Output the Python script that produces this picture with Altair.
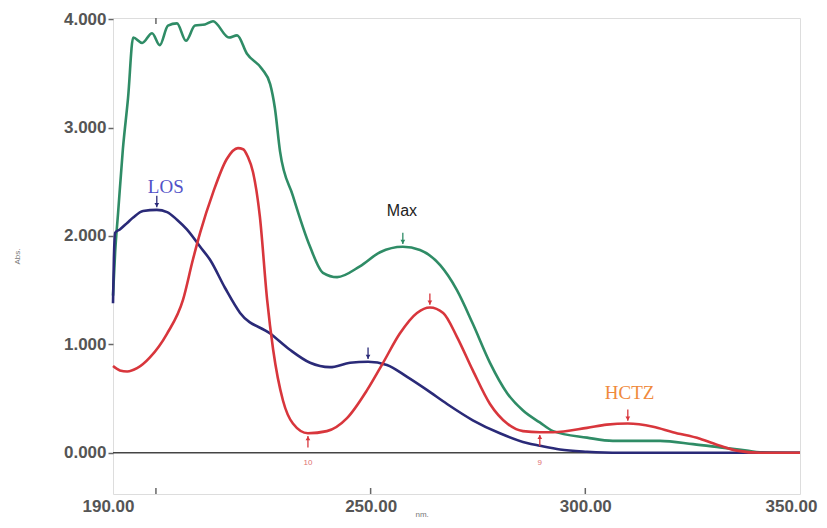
import altair as alt
import pandas as pd

# ---- data ----
max_nm = [190.0, 190.5, 191.2, 192.3, 193.5, 194.7, 196.8, 199.1, 200.9, 202.8, 204.9, 207.0, 209.1,
          211.4, 213.3, 217.0, 218.9, 221.2, 224.7, 226.6, 227.7, 228.9, 231.9, 235.9, 238.9, 242.2,
          247.5, 252.2, 257.5, 261.5, 266.2, 270.1, 273.8, 277.8, 281.8, 285.5, 289.4, 292.5, 300.4,
          306.4, 317.4, 325.1, 331.4, 337.6, 340.7, 350.0]
max_abs = [1.45, 1.85, 2.22, 2.80, 3.27, 3.83, 3.78, 3.87, 3.76, 3.94, 3.96, 3.80, 3.94,
           3.95, 3.98, 3.83, 3.85, 3.68, 3.54, 3.40, 3.18, 2.78, 2.37, 1.90, 1.66, 1.62,
           1.72, 1.85, 1.90, 1.87, 1.73, 1.50, 1.19, 0.83, 0.55, 0.39, 0.28, 0.20, 0.14,
           0.11, 0.11, 0.08, 0.05, 0.02, 0.005, 0.0]

los_nm = [190.0, 190.2, 190.5, 191.6, 193.3, 194.7, 197.0, 200.2, 202.6, 204.9, 207.2, 210.3, 212.6,
          216.1, 219.6, 226.6, 231.2, 235.9, 240.5, 245.2, 249.4, 253.8, 258.5, 263.1, 267.8, 273.8,
          280.1, 286.4, 289.4, 294.1, 300.4, 308.0, 350.0]
los_abs = [1.38, 1.78, 2.03, 2.06, 2.12, 2.17, 2.23, 2.24, 2.22, 2.15, 2.06, 1.90, 1.78,
           1.52, 1.29, 1.10, 0.95, 0.83, 0.79, 0.83, 0.84, 0.81, 0.70, 0.58, 0.45, 0.30,
           0.18, 0.09, 0.065, 0.03, 0.01, 0.0, 0.0]

hctz_nm = [190.0, 191.6, 193.3, 195.6, 198.6, 202.6, 206.3, 208.6, 210.3, 213.3, 216.5, 219.1, 220.3,
           221.4, 222.6, 224.2, 225.9, 227.3, 229.6, 231.9, 235.4, 239.8, 244.5, 249.2, 252.9, 256.8,
           260.8, 263.8, 266.9, 270.1, 273.8, 277.8, 281.8, 285.5, 289.4, 292.5, 300.4, 305.0, 309.9,
           315.8, 320.4, 326.7, 331.4, 335.3, 340.7, 350.0]
hctz_abs = [0.80, 0.76, 0.75, 0.78, 0.88, 1.10, 1.41, 1.78, 2.03, 2.40, 2.71, 2.81, 2.80,
            2.73, 2.59, 2.18, 1.41, 0.95, 0.48, 0.27, 0.18, 0.20, 0.32, 0.58, 0.83, 1.10,
            1.29, 1.34, 1.29, 1.07, 0.76, 0.45, 0.27, 0.20, 0.19, 0.19, 0.23, 0.26, 0.27,
            0.24, 0.19, 0.13, 0.065, 0.02, 0.0, 0.0]

# peak / valley markers (direction: 1 = arrow from above, -1 = arrow from below)
mark_nm = [200.2, 249.4, 257.5, 263.8, 235.4, 289.4, 309.9]
mark_abs = [2.24, 0.84, 1.90, 1.34, 0.18, 0.19, 0.27]
mark_dir = [1, 1, 1, 1, -1, -1, 1]
mark_series = ["LOS", "LOS", "Max", "HCTZ", "HCTZ", "HCTZ", "HCTZ"]
mark_text = ["", "", "", "", "10", "9", ""]

# curve labels
label_text = ["LOS", "Max", "HCTZ"]
label_nm = [202.3, 257.3, 310.3]
label_abs = [2.45, 2.23, 0.55]
label_color = ["#5252c8", "#222222", "#f08a3c"]
label_font = ["Liberation Serif", "Liberation Sans", "Liberation Serif"]
label_size = [19, 16, 19]

x_title = "nm."
y_title = "Abs."
x_label_values = [190, 250, 300, 350]
x_tick_values = [200, 250, 300]
x_top_tick_values = [200]
y_tick_values = [0, 1, 2, 3, 4]

series_names = ["Max", "LOS", "HCTZ"]
series_colors = ["#2f8c66", "#2a2a78", "#d8363c"]

# ---- build tables ----
rows = []
for n, a in zip(max_nm, max_abs):
    rows.append({"series": "Max", "nm": n, "abs": a})
for n, a in zip(los_nm, los_abs):
    rows.append({"series": "LOS", "nm": n, "abs": a})
for n, a in zip(hctz_nm, hctz_abs):
    rows.append({"series": "HCTZ", "nm": n, "abs": a})
curves = pd.DataFrame(rows)

marks = pd.DataFrame({"nm": mark_nm, "abs": mark_abs, "dir": mark_dir,
                      "series": mark_series, "txt": mark_text})

W, H = 687, 476
xs = alt.Scale(domain=[190, 350], nice=False, zero=False)
ys = alt.Scale(domain=[-0.38, 4.01], nice=False, zero=False)
cs = alt.Scale(domain=series_names, range=series_colors)

base_x = alt.X("nm:Q", scale=xs,
               axis=alt.Axis(values=x_label_values, format=".2f", title=None,
                             ticks=False, grid=False, domain=False,
                             labelFontSize=17, labelColor="#555555", labelFont="Liberation Sans",
                             labelFontWeight="bold", labelPadding=4, labelFlush=False,
                             labelOffset={"expr": "datum.value >= 350 ? -9 : (datum.value <= 190 ? -5 : 0)"}))
base_y = alt.Y("abs:Q", scale=ys,
               axis=alt.Axis(values=y_tick_values, format=".3f", title=y_title,
                             grid=False, domain=False, tickSize=5, tickColor="#666666",
                             tickWidth=1.5,
                             labelFontSize=17, labelColor="#555555", labelFont="Liberation Sans",
                             labelFontWeight="bold", labelPadding=2,
                             titleFontSize=8, titleColor="#777777", titleFontWeight="normal",
                             titlePadding=42))

zero_line = alt.Chart(pd.DataFrame({"abs": [0.0]})).mark_rule(color="#444444", strokeWidth=1.5).encode(
    y=alt.Y("abs:Q", scale=ys))

lines = alt.Chart(curves).mark_line(strokeWidth=2.6, interpolate="monotone").encode(
    x=base_x, y=base_y,
    color=alt.Color("series:N", scale=cs, legend=None),
    detail="series:N")

arrow_rules = alt.Chart(marks).transform_calculate(
    y1="datum.abs + datum.dir*0.025",
    y2="datum.abs + datum.dir*0.13").mark_rule(strokeWidth=1.3).encode(
    x=alt.X("nm:Q", scale=xs), y=alt.Y("y1:Q", scale=ys), y2="y2:Q",
    color=alt.Color("series:N", scale=cs, legend=None))

arrow_heads = alt.Chart(marks).transform_calculate(
    yh="datum.abs + datum.dir*0.045",
    shp="datum.dir > 0 ? 'triangle-down' : 'triangle-up'").mark_point(
    filled=True, size=22, opacity=1).encode(
    x=alt.X("nm:Q", scale=xs), y=alt.Y("yh:Q", scale=ys),
    shape=alt.Shape("shp:N", scale=alt.Scale(domain=["triangle-down", "triangle-up"],
                                             range=["triangle-down", "triangle-up"]), legend=None),
    color=alt.Color("series:N", scale=cs, legend=None))

mark_labels = alt.Chart(marks).transform_filter("datum.txt != ''").transform_calculate(
    yt="-0.06").mark_text(fontSize=8, color="#e07070", baseline="top").encode(
    x=alt.X("nm:Q", scale=xs), y=alt.Y("yt:Q", scale=ys), text="txt:N")

label_layers = []
for t, n, a, c, f, s in zip(label_text, label_nm, label_abs, label_color, label_font, label_size):
    label_layers.append(
        alt.Chart(pd.DataFrame({"txt": [t], "nm": [n], "abs": [a]})).mark_text(
            color=c, font=f, fontSize=s, baseline="middle", align="center").encode(
            x=alt.X("nm:Q", scale=xs), y=alt.Y("abs:Q", scale=ys), text="txt:N"))

x_title_layer = alt.Chart(pd.DataFrame({"txt": [x_title], "nm": [262.0]})).mark_text(
    fontSize=8, color="#777777", baseline="bottom", align="center").encode(
    x=alt.X("nm:Q", scale=xs), y=alt.value(H + 25), text="txt:N")

bottom_ticks = alt.Chart(pd.DataFrame({"nm": x_tick_values})).mark_rule(
    color="#666666", strokeWidth=1.5).encode(
    x=alt.X("nm:Q", scale=xs), y=alt.value(H), y2=alt.value(H - 6))
top_ticks = alt.Chart(pd.DataFrame({"nm": x_top_tick_values})).mark_rule(
    color="#666666", strokeWidth=1.5).encode(
    x=alt.X("nm:Q", scale=xs), y=alt.value(0), y2=alt.value(6))

chart = alt.layer(
    zero_line, bottom_ticks, top_ticks, lines, arrow_rules, arrow_heads, mark_labels,
    x_title_layer, *label_layers
).properties(
    width=W, height=H,
    autosize=alt.AutoSizeParams(type="none"),
    padding={"left": 105, "top": 10, "right": 19, "bottom": 26},
).configure_view(
    stroke="#666666", strokeWidth=2
).configure(background="white")

chart.save("out.html", embed_options={"renderer": "svg", "actions": False})
